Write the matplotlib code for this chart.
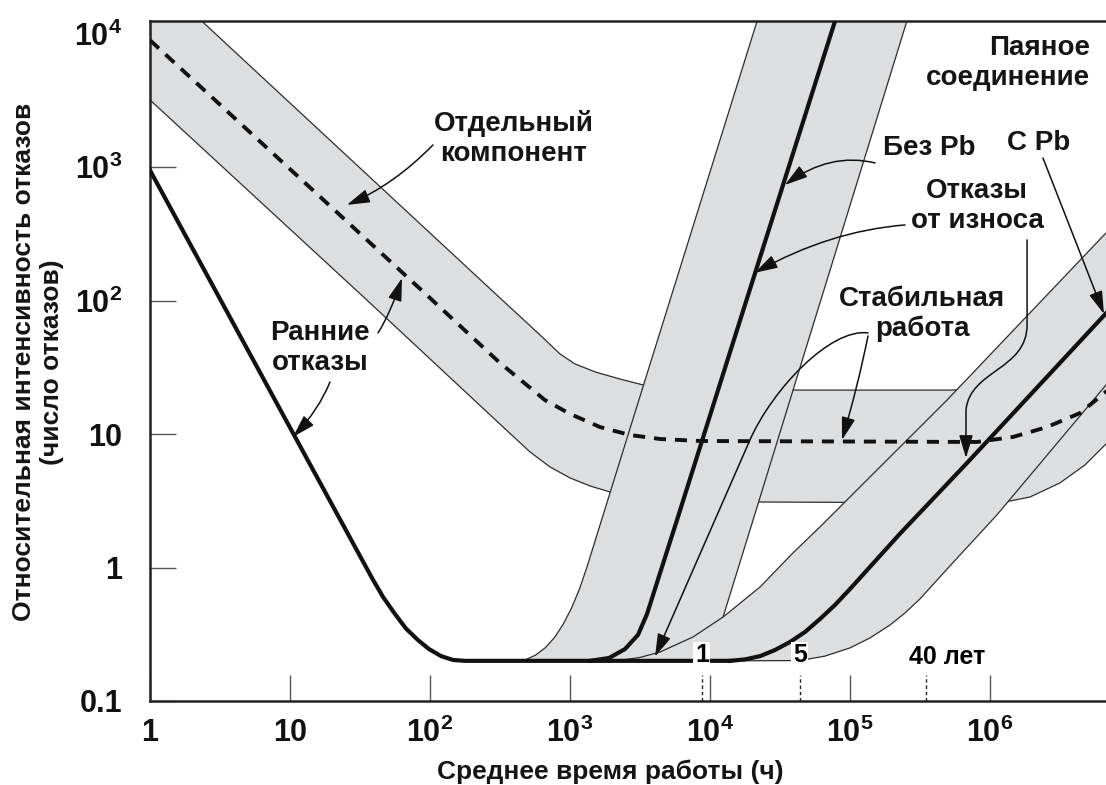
import matplotlib
matplotlib.use('Agg')
import matplotlib.pyplot as plt
from matplotlib.patches import FancyArrowPatch, ArrowStyle
from matplotlib.path import Path
from matplotlib.ticker import NullLocator

plt.rcParams['font.family'] = ['Liberation Sans', 'DejaVu Sans']
plt.rcParams['font.weight'] = 'bold'
plt.rcParams['mathtext.fontset'] = 'custom'
plt.rcParams['mathtext.bf'] = 'Liberation Sans:bold'
plt.rcParams['mathtext.rm'] = 'Liberation Sans:bold'
plt.rcParams['mathtext.default'] = 'bf'

# ---------------- data (hours, relative failure rate) ----------------
# single component band ("Отдельный компонент")
comp_upper_x = [1, 100, 316, 611, 849, 1086, 1509, 2276, 3320, 6110, 43950, 518000, 1.18e6, 2.68e6, 7.2e6]
comp_upper_y = [28600, 322, 105, 55.4, 39.9, 33.6, 29.3, 25.9, 23.4, 22.2, 21.4, 21.4, 22.2, 30.3, 60]
comp_lower_x = [1, 35.5, 316, 518, 720, 1000, 1390, 1930, 3160, 6110, 23900, 1.18e6, 1.93e6, 3.16e6, 4.77e6, 7.2e6]
comp_lower_y = [3200, 101, 11.9, 7.36, 5.68, 4.70, 4.09, 3.69, 3.38, 3.21, 3.10, 3.05, 3.38, 4.31, 5.88, 9.05]
comp_mid_x = [1, 95.2, 316, 663, 1000, 1640, 2680, 4400, 8490, 8.07e5, 1.46e6, 2.55e6, 4.4e6, 7e6]
comp_mid_y = [8970, 110, 34.2, 18.0, 14.2, 11.3, 9.86, 9.2, 8.89, 8.74, 9.53, 11.3, 14.4, 21.5]

# early failures + stable operation (thick)
early_x = [1, 10.5, 38.5, 46.2, 56.2, 67.4, 82.1, 98.4, 120, 146, 178, 13900]
early_y = [950, 10.2, 0.836, 0.602, 0.449, 0.349, 0.286, 0.245, 0.217, 0.203, 0.2, 0.2]

# lead-free solder joint ("Без Pb") band and curve
pbfree_left_x = [405, 482, 568, 667, 775, 895, 1026, 1169, 1322, 3320, 21700, 40200]
pbfree_left_y = [0.2, 0.204, 0.221, 0.251, 0.299, 0.377, 0.498, 0.691, 1.01, 22.6, 12500, 1e5]
pbfree_right_x = [6100, 9200, 12400, 20300, 39200, 255000, 471000]
pbfree_right_y = [0.2, 0.263, 0.426, 2.27, 21.4, 12500, 1e5]
pbfree_x = [1390, 1900, 2470, 3060, 3550, 4470, 5810, 15600, 78200, 1e5]
pbfree_y = [0.2, 0.210, 0.245, 0.313, 0.449, 0.96, 2.27, 60.4, 12500, 28000]

# tin-lead solder joint ("С Pb") band and curve
snpb_upper_x = [1640, 2280, 3160, 4400, 7560, 12400, 22800, 39200, 61100, 493000, 7e6]
snpb_upper_y = [0.2, 0.202, 0.212, 0.233, 0.302, 0.426, 0.716, 1.29, 2.02, 18.0, 336]
snpb_lower_x = [13900, 43900, 66300, 1e5, 139000, 193000, 247000, 316000, 518000, 1.12e6, 7e6]
snpb_lower_y = [0.2, 0.201, 0.217, 0.25, 0.297, 0.371, 0.457, 0.582, 1.03, 2.48, 24.5]
snpb_x = [13900, 17800, 22800, 29100, 37300, 47700, 61100, 78200, 1e5, 227000, 685000, 7e6]
snpb_y = [0.2, 0.205, 0.217, 0.241, 0.277, 0.329, 0.412, 0.525, 0.691, 1.79, 6.08, 84]

# service-life marks (years -> hours)
year_labels = ['1', '5', '40 лет']
year_hours = [8760, 43800, 350400]

x_ticks = [1, 10, 1e2, 1e3, 1e4, 1e5, 1e6]
x_ticklabels = ['1', '10', '$10^{2}$', '$10^{3}$', '$10^{4}$', '$10^{5}$', '$10^{6}$']
y_ticks = [0.1, 1, 10, 1e2, 1e3, 1e4]
y_ticklabels = ['0.1', '1', '10', '$10^{2}$', '$10^{3}$', '$10^{4}$']

# ---------------- figure ----------------
W, H = 1106, 785
fig = plt.figure(figsize=(W / 100, H / 100), dpi=100)
fig.patch.set_facecolor('white')
ax = fig.add_axes([150 / W, 84 / H, 956 / W, 680 / H])
ax.set_xscale('log')
ax.set_yscale('log')
ax.set_xlim(1, 6.74e6)
ax.set_ylim(0.1, 1.25e4)

GRAY = '#dddee0'
EDGE = '#2e2e2e'
THIN = 0.9
THICK = 3.0


def band(ex1, ey1, ex2, ey2, z):
    xs = list(ex1) + list(ex2)[::-1]
    ys = list(ey1) + list(ey2)[::-1]
    ax.fill(xs, ys, facecolor=GRAY, edgecolor='none', zorder=z)
    ax.plot(ex1, ey1, color=EDGE, lw=THIN, zorder=z + 0.1, solid_joinstyle='round')
    ax.plot(ex2, ey2, color=EDGE, lw=THIN, zorder=z + 0.1, solid_joinstyle='round')


band(comp_upper_x, comp_upper_y, comp_lower_x, comp_lower_y, 1)
band(pbfree_left_x, pbfree_left_y, pbfree_right_x, pbfree_right_y, 2)
band(snpb_upper_x, snpb_upper_y, snpb_lower_x, snpb_lower_y, 3)

ax.plot(comp_mid_x, comp_mid_y, color='#111111', lw=2.8, dashes=(3.1, 2.3), zorder=5)
for xs, ys in [(early_x, early_y), (pbfree_x, pbfree_y), (snpb_x, snpb_y)]:
    ax.plot(xs, ys, color='#111111', lw=THICK, zorder=6, solid_joinstyle='round')

# year marks
ax.vlines(year_hours, 0.1, 0.157, colors='#222222', lw=1.0, linestyles=(0, (2.5, 2.0)), zorder=4)
txt_kw = dict(fontsize=18, fontweight='bold', va='center', zorder=9,
              bbox=dict(facecolor='white', edgecolor='none', pad=1.0))
ax.text(year_hours[0], 0.221, year_labels[0], ha='center', **txt_kw)
ax.text(year_hours[1], 0.221, year_labels[1], ha='center', **txt_kw)
ax.annotate(year_labels[2], xy=(year_hours[2], 0.214), xytext=(-17, 0), textcoords='offset pixels',
            ha='left', va='center', fontsize=18, fontweight='bold', zorder=9)

# ---------------- annotations ----------------
ASTYLE = ArrowStyle('-|>', head_length=1.4, head_width=0.42)
M, L, C3, C4 = Path.MOVETO, Path.LINETO, Path.CURVE3, Path.CURVE4


def arrow(verts, codes):
    p = FancyArrowPatch(path=Path(verts, codes), arrowstyle=ASTYLE, mutation_scale=10,
                        color='#111111', lw=1.1, zorder=7)
    ax.add_patch(p)


arrow([(105, 1472), (55.3, 738), (25.5, 523)], [M, C3, C3])
arrow([(42.5, 57.4), (51.8, 78.9), (63.1, 148)], [M, C3, C3])
arrow([(19.3, 24.6), (16.0, 15.1), (10.5, 9.53)], [M, C3, C3])
arrow([(151000, 1079), (71900, 1304), (34300, 738)], [M, C3, C3])
arrow([(247000, 370), (71900, 334), (20900, 162)], [M, C3, C3])
arrow([(2.39e6, 1175), (6.52e6, 79.6)], [M, L])
arrow([(1.84e6, 286), (1.84e6, 65.9), (1.84e6, 30.3), (720000, 30.3), (674000, 15.2), (674000, 6.63)],
      [M, L, C4, C4, C4, L])
arrow([(134500, 57.4), (71900, 62.5), (27700, 21.4), (19300, 9.05), (4050, 0.215)],
      [M, C4, C4, C4, L])
arrow([(134500, 54.5), (114000, 23.0), (87700, 9.05)], [M, C3, C3])

lab_kw = dict(fontsize=20, fontweight='bold', ha='center', va='center', zorder=8, color='#151515')
ax.text(398, 1633, 'Отдельный\nкомпонент', **lab_kw)
ax.text(16.4, 44.3, 'Ранние\nотказы', **lab_kw)
ax.text(367000, 1399, 'Без Pb', **lab_kw)
ax.text(2.24e6, 1524, 'С Pb', **lab_kw)
ax.text(808000, 514, 'Отказы\nот износа', **lab_kw)
ax.text(327000, 79.6, 'Стабильная\nработа', **lab_kw)
ax.text(5.18e6, 6067, 'Паяное\nсоединение', fontsize=20, fontweight='bold', ha='right',
        va='center', multialignment='right', zorder=8, color='#151515')

# ---------------- axes styling ----------------
ax.set_xticks(x_ticks)
ax.set_xticklabels(x_ticklabels)
ax.set_yticks(y_ticks)
ax.set_yticklabels(y_ticklabels)
ax.xaxis.set_minor_locator(NullLocator())
ax.yaxis.set_minor_locator(NullLocator())
ax.tick_params(axis='both', direction='in', length=19, width=1.0, color='#555555',
               labelsize=22, labelcolor='#111111')
ax.tick_params(axis='x', pad=12)
ax.tick_params(axis='y', pad=20)
ax.yaxis.get_major_ticks()[-1].tick1line.set_visible(False)
for s in ['left', 'bottom', 'top']:
    ax.spines[s].set_linewidth(1.8)
    ax.spines[s].set_color('#222222')
ax.spines['right'].set_visible(False)

fig.text(610 / W, 1 - 772 / H, 'Среднее время работы (ч)', ha='center', va='center',
         fontsize=19, fontweight='bold', color='#151515')
fig.text(38 / W, 1 - 362 / H, 'Относительная интенсивность отказов\n(число отказов)',
         rotation=90, ha='center', va='center', multialignment='center',
         fontsize=19, fontweight='bold', color='#151515')

fig.savefig('out.png', dpi=100, facecolor='white')
